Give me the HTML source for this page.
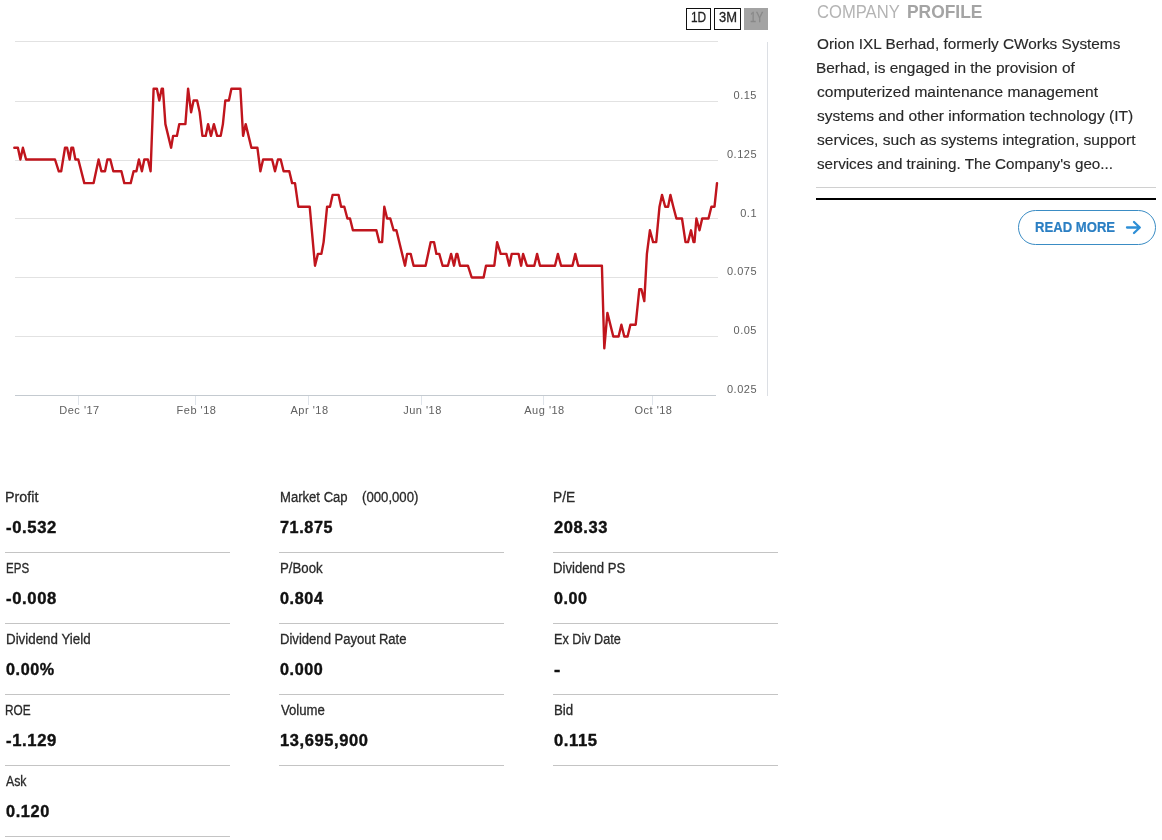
<!DOCTYPE html>
<html><head><meta charset="utf-8"><title>Company</title>
<style>
html,body{margin:0;padding:0;background:#fff;}
body{width:1162px;height:840px;position:relative;overflow:hidden;font-family:"Liberation Sans",sans-serif;color:#222;}
svg{position:absolute;left:0;top:0;}
.ax{font-family:"Liberation Sans",sans-serif;font-size:11px;fill:#606060;letter-spacing:0.5px;}
.t{position:absolute;display:block;white-space:nowrap;line-height:20px;transform-origin:0 0;font-family:"Liberation Sans",sans-serif;}
.btn{position:absolute;top:8px;height:20px;border:1px solid #111;box-sizing:content-box;}
.btn.on{background:#a3a3a3;border-color:#a3a3a3;}
.hr1{position:absolute;left:816px;top:187px;width:340px;height:1px;background:#d0d0d0;}
.hr2{position:absolute;left:816px;top:198px;width:340px;height:2px;background:#000;}
.more{position:absolute;left:1018px;top:210px;width:136px;height:33px;border:1px solid #3a8cc4;border-radius:18px;box-sizing:content-box;}
.sep{position:absolute;width:225px;height:1px;background:#c4c4c4;}
</style></head><body>
<svg width="800" height="440" viewBox="0 0 800 440">
<line x1="15" y1="41.5" x2="718" y2="41.5" stroke="#e2e2e2" stroke-width="1"/>
<line x1="15" y1="101.5" x2="718" y2="101.5" stroke="#e2e2e2" stroke-width="1"/>
<line x1="15" y1="160.5" x2="718" y2="160.5" stroke="#e2e2e2" stroke-width="1"/>
<line x1="15" y1="218.5" x2="718" y2="218.5" stroke="#e2e2e2" stroke-width="1"/>
<line x1="15" y1="277.5" x2="718" y2="277.5" stroke="#e2e2e2" stroke-width="1"/>
<line x1="15" y1="336.5" x2="718" y2="336.5" stroke="#e2e2e2" stroke-width="1"/>
<line x1="15" y1="395.5" x2="716" y2="395.5" stroke="#c4cad0" stroke-width="1"/>
<line x1="767.5" y1="42" x2="767.5" y2="396" stroke="#dcdfe4" stroke-width="1"/>
<line x1="78.5" y1="396" x2="78.5" y2="405" stroke="#dfe4ea" stroke-width="1"/>
<text x="79.5" y="414" text-anchor="middle" class="ax">Dec '17</text>
<line x1="195.5" y1="396" x2="195.5" y2="405" stroke="#dfe4ea" stroke-width="1"/>
<text x="196.5" y="414" text-anchor="middle" class="ax">Feb '18</text>
<line x1="308.5" y1="396" x2="308.5" y2="405" stroke="#dfe4ea" stroke-width="1"/>
<text x="309.5" y="414" text-anchor="middle" class="ax">Apr '18</text>
<line x1="421.5" y1="396" x2="421.5" y2="405" stroke="#dfe4ea" stroke-width="1"/>
<text x="422.5" y="414" text-anchor="middle" class="ax">Jun '18</text>
<line x1="543.5" y1="396" x2="543.5" y2="405" stroke="#dfe4ea" stroke-width="1"/>
<text x="544.5" y="414" text-anchor="middle" class="ax">Aug '18</text>
<line x1="652.5" y1="396" x2="652.5" y2="405" stroke="#dfe4ea" stroke-width="1"/>
<text x="653.5" y="414" text-anchor="middle" class="ax">Oct '18</text>
<text x="757" y="98.8" text-anchor="end" class="ax">0.15</text>
<text x="757" y="157.8" text-anchor="end" class="ax">0.125</text>
<text x="757" y="216.8" text-anchor="end" class="ax">0.1</text>
<text x="757" y="274.8" text-anchor="end" class="ax">0.075</text>
<text x="757" y="333.8" text-anchor="end" class="ax">0.05</text>
<text x="757" y="392.8" text-anchor="end" class="ax">0.025</text>
<path d="M14.3 147.7 L17.9 147.7 L20.4 159.5 L22.9 147.7 L26.1 159.5 L55.0 159.5 L58.8 171.3 L61.2 171.3 L65.0 147.7 L67.1 147.7 L69.6 159.5 L71.4 147.7 L73.1 147.7 L75.4 159.5 L78.3 159.5 L84.3 183.1 L93.6 183.1 L98.6 159.5 L101.4 171.3 L105.0 171.3 L107.4 159.5 L110.3 159.5 L113.3 171.3 L121.4 171.3 L124.3 183.1 L130.7 183.1 L133.6 171.3 L136.4 171.3 L138.9 159.5 L141.9 171.3 L144.3 159.5 L147.9 159.5 L150.6 171.3 L153.6 88.7 L156.9 88.7 L159.3 100.5 L161.7 88.7 L162.9 88.7 L165.4 124.1 L171.1 147.7 L173.1 135.9 L176.9 135.9 L179.3 124.1 L185.4 124.1 L188.1 88.7 L191.1 112.3 L193.6 100.5 L197.1 100.5 L199.7 112.3 L202.4 135.9 L205.7 135.9 L208.1 124.1 L211.0 135.9 L213.9 124.1 L217.1 135.9 L220.7 135.9 L222.9 124.1 L225.3 100.5 L228.9 100.5 L231.4 88.7 L240.4 88.7 L243.1 135.9 L245.7 124.1 L251.4 147.7 L257.4 147.7 L260.4 171.3 L263.1 159.5 L272.1 159.5 L275.0 171.3 L277.9 159.5 L280.7 159.5 L283.6 171.3 L289.3 171.3 L292.1 183.1 L295.0 183.1 L298.3 206.7 L309.7 206.7 L315.0 265.7 L317.9 253.9 L321.4 253.9 L323.6 242.1 L327.1 206.7 L330.0 206.7 L332.6 194.9 L338.6 194.9 L341.1 206.7 L344.3 206.7 L347.4 218.5 L350.0 218.5 L352.9 230.3 L376.4 230.3 L379.3 242.1 L382.1 242.1 L384.3 206.7 L387.1 218.5 L390.3 218.5 L393.6 230.3 L396.4 230.3 L405.0 265.7 L407.1 253.9 L410.7 253.9 L413.6 265.7 L425.6 265.7 L430.7 242.1 L434.0 242.1 L436.4 253.9 L439.3 253.9 L442.6 265.7 L447.9 265.7 L451.1 253.9 L454.0 265.7 L456.4 253.9 L457.4 253.9 L460.0 265.7 L467.9 265.7 L471.7 277.5 L483.6 277.5 L486.0 265.7 L494.3 265.7 L497.1 242.1 L500.7 253.9 L506.4 253.9 L509.3 265.7 L511.7 253.9 L518.6 253.9 L521.1 265.7 L523.1 253.9 L526.9 265.7 L534.3 265.7 L537.1 253.9 L540.0 265.7 L555.0 265.7 L557.9 253.9 L561.1 265.7 L572.5 265.7 L575.3 253.9 L578.2 265.7 L601.9 265.7 L604.3 348.3 L607.4 312.9 L613.3 336.5 L618.6 336.5 L621.4 324.7 L624.3 336.5 L627.6 336.5 L630.4 324.7 L635.7 324.7 L639.3 289.3 L641.4 289.3 L644.3 301.1 L646.9 253.9 L649.9 230.3 L653.1 242.1 L656.2 242.1 L659.5 206.7 L662.0 194.9 L665.2 206.7 L668.1 206.7 L670.4 194.9 L673.3 206.7 L676.4 218.5 L682.0 218.5 L685.5 242.1 L688.0 242.1 L691.0 230.3 L693.5 242.1 L694.5 242.1 L696.4 218.5 L699.5 230.3 L702.2 218.5 L708.5 218.5 L711.4 206.7 L714.5 206.7 L717.0 183.1" fill="none" stroke="#c0151d" stroke-width="2.4" stroke-linejoin="round" stroke-linecap="round"/>
</svg>
<div class="btn" style="left:686px;width:23px;"></div>
<div class="btn" style="left:714px;width:25px;"></div>
<div class="btn on" style="left:744px;width:22px;"></div>
<div class="hr1"></div><div class="hr2"></div>
<div class="more"></div>
<svg style="left:1124px;top:219px" width="20" height="18" viewBox="0 0 20 18"><path d="M3 8.5 H15.5 M10 3 L15.8 8.5 L10 14" fill="none" stroke="#2e8fd6" stroke-width="2.3" stroke-linecap="round" stroke-linejoin="round"/></svg>
<div class="sep" style="left:5px;top:552px"></div>
<div class="sep" style="left:279px;top:552px"></div>
<div class="sep" style="left:553px;top:552px"></div>
<div class="sep" style="left:5px;top:623px"></div>
<div class="sep" style="left:279px;top:623px"></div>
<div class="sep" style="left:553px;top:623px"></div>
<div class="sep" style="left:5px;top:694px"></div>
<div class="sep" style="left:279px;top:694px"></div>
<div class="sep" style="left:553px;top:694px"></div>
<div class="sep" style="left:5px;top:765px"></div>
<div class="sep" style="left:279px;top:765px"></div>
<div class="sep" style="left:553px;top:765px"></div>
<div class="sep" style="left:5px;top:836px"></div>
<span class="t" style="left:816.90px;top:2px;font-size:19px;color:#b4b4b4;transform:scaleX(0.8738);">COMPANY</span>
<span class="t" style="left:906.88px;top:2px;font-size:19px;color:#a4a4a4;transform:scaleX(0.9162);font-weight:bold;">PROFILE</span>
<span class="t" style="left:816.90px;top:34px;font-size:15.5px;color:#282828;transform:scaleX(0.9891);-webkit-text-stroke:0.15px;">Orion IXL Berhad, formerly CWorks Systems</span>
<span class="t" style="left:816.31px;top:58px;font-size:15.5px;color:#282828;transform:scaleX(0.9945);-webkit-text-stroke:0.15px;">Berhad, is engaged in the provision of</span>
<span class="t" style="left:817.30px;top:82px;font-size:15.5px;color:#282828;transform:scaleX(1.0004);-webkit-text-stroke:0.15px;">computerized maintenance management</span>
<span class="t" style="left:817.30px;top:106px;font-size:15.5px;color:#282828;transform:scaleX(1.0027);-webkit-text-stroke:0.15px;">systems and other information technology (IT)</span>
<span class="t" style="left:817.30px;top:130px;font-size:15.5px;color:#282828;transform:scaleX(1.0047);-webkit-text-stroke:0.15px;">services, such as systems integration, support</span>
<span class="t" style="left:817.30px;top:154px;font-size:15.5px;color:#282828;transform:scaleX(0.9813);-webkit-text-stroke:0.15px;">services and training. The Company's geo...</span>
<span class="t" style="left:1034.60px;top:217px;font-size:14.5px;color:#2b7fc3;transform:scaleX(0.9040);-webkit-text-stroke:0.2px;font-weight:bold;">READ MORE</span>
<span class="t" style="left:691.48px;top:7px;font-size:14.5px;color:#222;transform:scaleX(0.8204);-webkit-text-stroke:0.3px;">1D</span>
<span class="t" style="left:718.80px;top:7px;font-size:14.5px;color:#222;transform:scaleX(0.8917);-webkit-text-stroke:0.3px;">3M</span>
<span class="t" style="left:750.25px;top:7px;font-size:14.5px;color:#888;transform:scaleX(0.7501);-webkit-text-stroke:0.3px;">1Y</span>
<span class="t" style="left:5.28px;top:487px;font-size:14px;color:#2a2a2a;transform:scaleX(1.0225);-webkit-text-stroke:0.3px;">Profit</span>
<span class="t" style="left:279.87px;top:487px;font-size:14px;color:#2a2a2a;transform:scaleX(0.9347);-webkit-text-stroke:0.3px;">Market Cap</span>
<span class="t" style="left:553.42px;top:487px;font-size:14px;color:#2a2a2a;transform:scaleX(0.9799);-webkit-text-stroke:0.3px;">P/E</span>
<span class="t" style="left:5.80px;top:518px;font-size:16px;color:#111;transform:scaleX(1.0398);-webkit-text-stroke:0.4px;font-weight:bold;letter-spacing:0.6px;">-0.532</span>
<span class="t" style="left:280.30px;top:518px;font-size:16px;color:#111;transform:scaleX(1.0127);-webkit-text-stroke:0.4px;font-weight:bold;letter-spacing:0.6px;">71.875</span>
<span class="t" style="left:553.90px;top:518px;font-size:16px;color:#111;transform:scaleX(1.0281);-webkit-text-stroke:0.4px;font-weight:bold;letter-spacing:0.6px;">208.33</span>
<span class="t" style="left:6.28px;top:558px;font-size:14px;color:#2a2a2a;transform:scaleX(0.8247);-webkit-text-stroke:0.3px;">EPS</span>
<span class="t" style="left:279.85px;top:558px;font-size:14px;color:#2a2a2a;transform:scaleX(0.9460);-webkit-text-stroke:0.3px;">P/Book</span>
<span class="t" style="left:553.46px;top:558px;font-size:14px;color:#2a2a2a;transform:scaleX(0.9379);-webkit-text-stroke:0.3px;">Dividend PS</span>
<span class="t" style="left:5.80px;top:589px;font-size:16px;color:#111;transform:scaleX(1.0398);-webkit-text-stroke:0.4px;font-weight:bold;letter-spacing:0.6px;">-0.008</span>
<span class="t" style="left:280.30px;top:589px;font-size:16px;color:#111;transform:scaleX(1.0108);-webkit-text-stroke:0.4px;font-weight:bold;letter-spacing:0.6px;">0.804</span>
<span class="t" style="left:554.30px;top:589px;font-size:16px;color:#111;transform:scaleX(1.0018);-webkit-text-stroke:0.4px;font-weight:bold;letter-spacing:0.6px;">0.00</span>
<span class="t" style="left:5.55px;top:629px;font-size:14px;color:#2a2a2a;transform:scaleX(0.9531);-webkit-text-stroke:0.3px;">Dividend Yield</span>
<span class="t" style="left:279.77px;top:629px;font-size:14px;color:#2a2a2a;transform:scaleX(0.9344);-webkit-text-stroke:0.3px;">Dividend Payout Rate</span>
<span class="t" style="left:553.80px;top:629px;font-size:14px;color:#2a2a2a;transform:scaleX(0.9026);-webkit-text-stroke:0.3px;">Ex Div Date</span>
<span class="t" style="left:6.00px;top:660px;font-size:16px;color:#111;transform:scaleX(1.0097);-webkit-text-stroke:0.4px;font-weight:bold;letter-spacing:0.6px;">0.00%</span>
<span class="t" style="left:280.30px;top:660px;font-size:16px;color:#111;transform:scaleX(1.0084);-webkit-text-stroke:0.4px;font-weight:bold;letter-spacing:0.6px;">0.000</span>
<span class="t" style="left:554.40px;top:660px;font-size:16px;color:#111;transform:scaleX(1.1800);-webkit-text-stroke:0.4px;font-weight:bold;letter-spacing:0.6px;">-</span>
<span class="t" style="left:5.46px;top:700px;font-size:14px;color:#2a2a2a;transform:scaleX(0.8448);-webkit-text-stroke:0.3px;">ROE</span>
<span class="t" style="left:280.70px;top:700px;font-size:14px;color:#2a2a2a;transform:scaleX(0.9401);-webkit-text-stroke:0.3px;">Volume</span>
<span class="t" style="left:553.75px;top:700px;font-size:14px;color:#2a2a2a;transform:scaleX(0.9486);-webkit-text-stroke:0.3px;">Bid</span>
<span class="t" style="left:5.80px;top:731px;font-size:16px;color:#111;transform:scaleX(1.0398);-webkit-text-stroke:0.4px;font-weight:bold;letter-spacing:0.6px;">-1.129</span>
<span class="t" style="left:279.77px;top:731px;font-size:16px;color:#111;transform:scaleX(1.0286);-webkit-text-stroke:0.4px;font-weight:bold;letter-spacing:0.6px;">13,695,900</span>
<span class="t" style="left:554.40px;top:731px;font-size:16px;color:#111;transform:scaleX(1.0370);-webkit-text-stroke:0.4px;font-weight:bold;letter-spacing:0.6px;">0.115</span>
<span class="t" style="left:6.30px;top:771px;font-size:14px;color:#2a2a2a;transform:scaleX(0.8793);-webkit-text-stroke:0.3px;">Ask</span>
<span class="t" style="left:6.20px;top:802px;font-size:16px;color:#111;transform:scaleX(1.0179);-webkit-text-stroke:0.4px;font-weight:bold;letter-spacing:0.6px;">0.120</span>
<span class="t" style="left:361.90px;top:487px;font-size:14px;color:#2a2a2a;transform:scaleX(0.9415);-webkit-text-stroke:0.3px;">(000,000)</span>
</body></html>
